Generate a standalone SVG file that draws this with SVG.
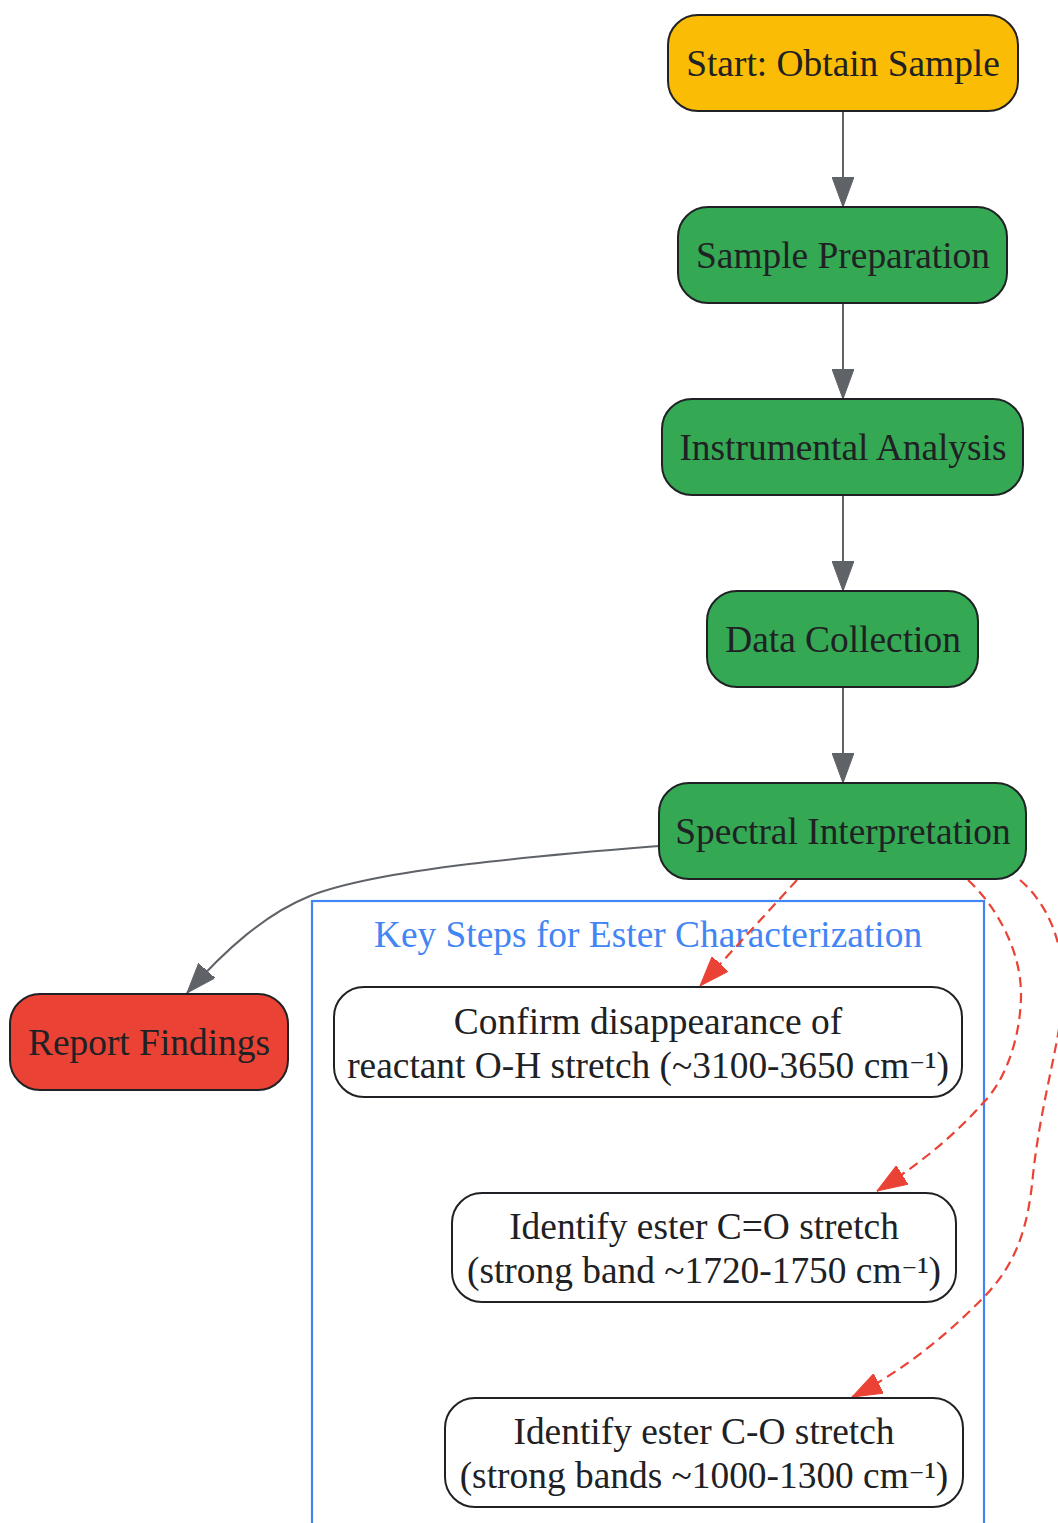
<svg xmlns="http://www.w3.org/2000/svg" width="1058" height="1523" viewBox="0 0 1058 1523">
<style>
.node rect{stroke:#202124;stroke-width:2}
text{font-family:"Liberation Serif","Times New Roman",serif;font-size:37.4px;fill:#202124;text-anchor:middle}
.sup{font-family:"DejaVu Serif",serif;font-size:30px}
.gray{fill:none;stroke:#5f6368;stroke-width:2}
.red{fill:none;stroke:#EA4335;stroke-width:2.2;stroke-dasharray:10,6}
</style>
<defs>
<marker id="ag" markerWidth="30" markerHeight="22" refX="30" refY="11" orient="auto" markerUnits="userSpaceOnUse"><path d="M0,0 L30,11 L0,22 Z" fill="#5f6368" stroke="#5f6368" stroke-width="1"/></marker>
<marker id="ar" markerWidth="30" markerHeight="22" refX="30" refY="11" orient="auto" markerUnits="userSpaceOnUse"><path d="M0,0 L30,11 L0,22 Z" fill="#EA4335" stroke="#EA4335" stroke-width="1"/></marker>
</defs>
<rect width="1058" height="1523" fill="#ffffff"/>
<g id="cluster">
<rect x="312" y="901" width="672" height="640" fill="none" stroke="#4285F4" stroke-width="2.2"/>
<text x="648" y="947" style="fill:#4285F4">Key Steps for Ester Characterization</text>
</g>
<g id="edges">
<path class="gray" d="M843,111 L843,207" marker-end="url(#ag)"/>
<path class="gray" d="M843,303 L843,399" marker-end="url(#ag)"/>
<path class="gray" d="M843,495 L843,591" marker-end="url(#ag)"/>
<path class="gray" d="M843,687 L843,783" marker-end="url(#ag)"/>
<path class="gray" d="M659,846 C560,854 380,868 310,896 C265,914 225,950 187,993" marker-end="url(#ag)"/>
<path class="red" d="M797,880 L700,986" marker-end="url(#ar)"/>
<path class="red" d="M968,880 C995,905 1022,950 1021,997 C1020,1040 1005,1080 984,1102 C952,1138 918,1165 877,1191" marker-end="url(#ar)"/>
<path class="red" d="M1020,880 C1055,910 1068,960 1062,1010 C1055,1060 1040,1110 1033,1175 C1028,1230 1015,1265 984,1297 C950,1332 905,1370 852,1397" marker-end="url(#ar)"/>
</g>
<g id="n_start" class="node">
<rect x="668" y="15" width="350" height="96" rx="30" fill="#FBBC05"/>
<text x="843" y="76">Start: Obtain Sample</text>
</g>
<g id="n_prep" class="node">
<rect x="678" y="207" width="329" height="96" rx="30" fill="#34A853"/>
<text x="843" y="268">Sample Preparation</text>
</g>
<g id="n_instr" class="node">
<rect x="662" y="399" width="361" height="96" rx="30" fill="#34A853"/>
<text x="843" y="460">Instrumental Analysis</text>
</g>
<g id="n_data" class="node">
<rect x="707" y="591" width="271" height="96" rx="30" fill="#34A853"/>
<text x="843" y="652">Data Collection</text>
</g>
<g id="n_spec" class="node">
<rect x="659" y="783" width="367" height="96" rx="30" fill="#34A853"/>
<text x="843" y="844">Spectral Interpretation</text>
</g>
<g id="n_report" class="node">
<rect x="10" y="994" width="278" height="96" rx="30" fill="#EA4335"/>
<text x="149" y="1055">Report Findings</text>
</g>
<g id="n_oh" class="node">
<rect x="334" y="987" width="628" height="110" rx="30" fill="#ffffff"/>
<text x="648" y="1034">Confirm disappearance of</text>
<text x="648" y="1078">reactant O-H stretch (~3100-3650 cm<tspan class="sup">⁻</tspan>¹)</text>
</g>
<g id="n_co_double" class="node">
<rect x="452" y="1193" width="504" height="109" rx="30" fill="#ffffff"/>
<text x="704" y="1239">Identify ester C=O stretch</text>
<text x="704" y="1283">(strong band ~1720-1750 cm<tspan class="sup">⁻</tspan>¹)</text>
</g>
<g id="n_co_single" class="node">
<rect x="445" y="1398" width="518" height="109" rx="30" fill="#ffffff"/>
<text x="704" y="1444">Identify ester C-O stretch</text>
<text x="704" y="1488">(strong bands ~1000-1300 cm<tspan class="sup">⁻</tspan>¹)</text>
</g>
</svg>
